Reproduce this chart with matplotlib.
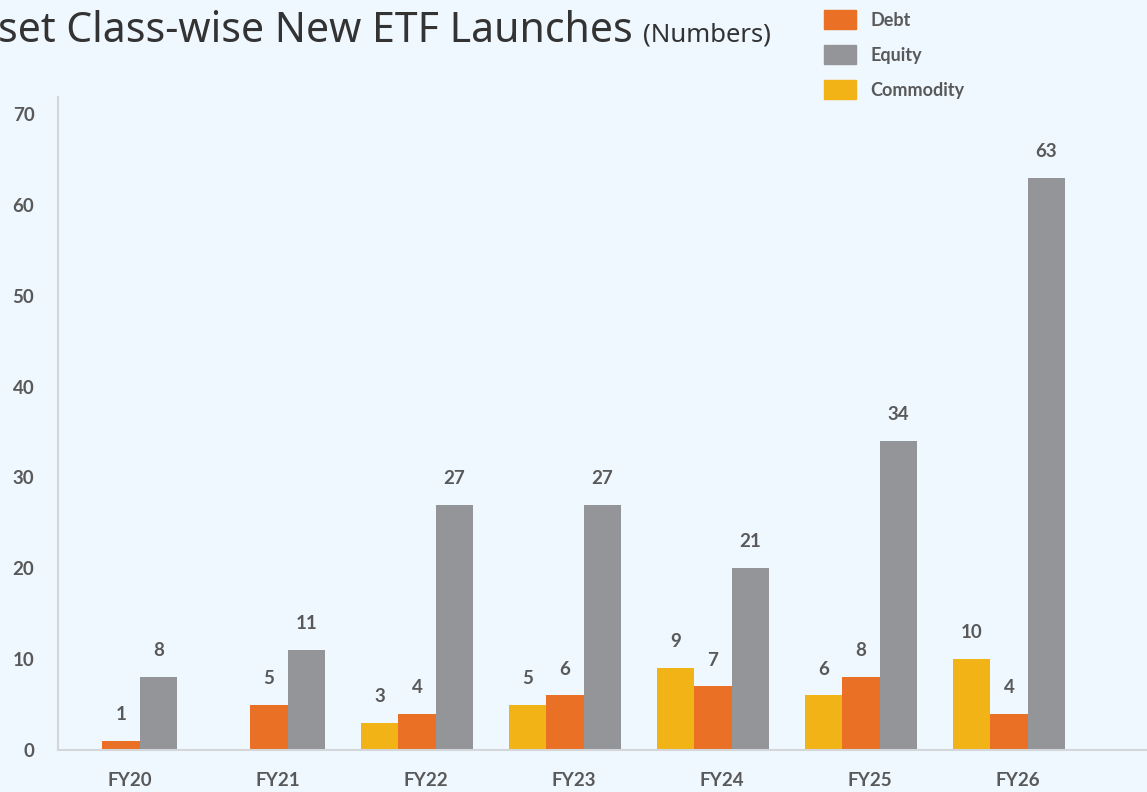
import numpy as np
import matplotlib.pyplot as plt
from matplotlib.patches import Patch

years = ['FY20', 'FY21', 'FY22', 'FY23', 'FY24', 'FY25', 'FY26']
commodity = [0, 0, 3, 5, 9, 6, 10]
debt = [1, 5, 4, 6, 7, 8, 4]
equity = [8, 11, 27, 27, 20, 34, 63]
equity_labels = ['8', '11', '27', '27', '21', '34', '63']

bg = '#EFF7FF'
c_debt = '#E97025'
c_equity = '#939598'
c_comm = '#F2B316'
txt = '#595959'

plt.rcParams['font.family'] = ['Lato', 'DejaVu Sans']

fig = plt.figure(figsize=(11.47, 7.92), dpi=100, facecolor=bg)
ax = fig.add_axes([58 / 1147, 42 / 792, 1089 / 1147, 653 / 792], facecolor=bg)

x = np.arange(len(years))
w = 0.2534

def put_labels(xs, vals, labels):
    for xi, v, s in zip(xs, vals, labels):
        if v == 0:
            continue
        ax.annotate(s, (xi, v), xytext=(0, 19), textcoords='offset points',
                    ha='center', va='center', fontsize=13.5, color=txt, fontweight='bold')

has_comm = np.array(commodity) > 0
ax.bar(x[has_comm] - w, np.array(commodity)[has_comm], width=w, color=c_comm, edgecolor='none')
ax.bar(x, debt, width=w, color=c_debt, edgecolor='none')
ax.bar(x + w, equity, width=w, color=c_equity, edgecolor='none')

put_labels(x - w, commodity, [str(v) for v in commodity])
put_labels(x, debt, [str(v) for v in debt])
put_labels(x + w, equity, equity_labels)

ax.set_xlim(-0.4257, 6.932)
ax.set_ylim(0, 71.87)
ax.set_yticks(range(0, 71, 10))
ax.set_xticks(x + 0.06)
ax.set_xticklabels(years)
ax.tick_params(axis='both', length=0, labelsize=13.5, labelcolor=txt)
ax.tick_params(axis='y', pad=17)
ax.tick_params(axis='x', pad=16)
for lab in ax.get_xticklabels() + ax.get_yticklabels():
    lab.set_fontweight('bold')

ax.spines['top'].set_visible(False)
ax.spines['right'].set_visible(False)
for sp in ['left', 'bottom']:
    ax.spines[sp].set_color('#D4D6D9')
    ax.spines[sp].set_linewidth(1.5)

# title: the reference only shows the part from "set" onwards
fig.text(633 / 1147, 1 - 42 / 792, 'set Class-wise New ETF Launches', ha='right', va='baseline',
         fontsize=29.5, color='#333333', fontweight='medium', family=['Noto Sans', 'DejaVu Sans'])
fig.text(643 / 1147, 1 - 42 / 792, '(Numbers)', ha='left', va='baseline',
         fontsize=18.5, color='#333333', fontweight='medium', family=['Noto Sans', 'DejaVu Sans'])

handles = [Patch(color=c_debt, label='Debt'), Patch(color=c_equity, label='Equity'),
           Patch(color=c_comm, label='Commodity')]
leg = fig.legend(handles=handles, loc='upper left', bbox_to_anchor=(808 / 1147, 1 + 6 / 792),
                 frameon=False, fontsize=13, handlelength=1.77, handleheight=1.22,
                 labelspacing=0.9, handletextpad=0.78, labelcolor=txt)
for t in leg.get_texts():
    t.set_fontweight('bold')

fig.savefig('out.png', dpi=100, facecolor=bg)
